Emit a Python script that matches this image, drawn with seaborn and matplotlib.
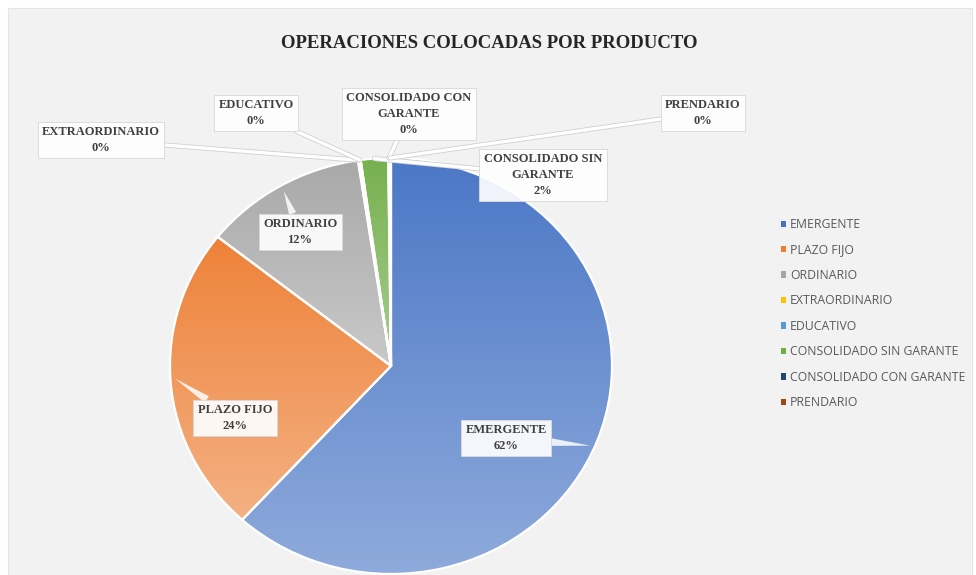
import numpy as np
import matplotlib
matplotlib.use("Agg")
import matplotlib.pyplot as plt
import seaborn as sns
from matplotlib.patches import Patch, Rectangle
from matplotlib.colors import LinearSegmentedColormap, to_rgb
import matplotlib.patheffects as pe

# ---------------- data ----------------
categories = ["EMERGENTE", "PLAZO FIJO", "ORDINARIO", "EXTRAORDINARIO", "EDUCATIVO",
              "CONSOLIDADO SIN GARANTE", "CONSOLIDADO CON GARANTE", "PRENDARIO"]
values = [620, 240, 120, 1, 1, 20, 1, 1]
label_texts = ["EMERGENTE", "PLAZO FIJO", "ORDINARIO", "EXTRAORDINARIO", "EDUCATIVO",
               "CONSOLIDADO SIN\nGARANTE", "CONSOLIDADO CON\nGARANTE", "PRENDARIO"]
title = "OPERACIONES COLOCADAS POR PRODUCTO"

# ---------------- style ----------------
sns.set_theme(style="white")
palette = sns.color_palette(["#4472C4", "#ED7D31", "#A5A5A5", "#FFC000",
                             "#5B9BD5", "#70AD47", "#264478", "#9E480E"])
W, H = 976, 575
fig = plt.figure(figsize=(W / 100, H / 100), dpi=100)
fig.patch.set_facecolor("white")
bg = Rectangle((8 / W, 0), (W - 12) / W, (H - 8) / H, transform=fig.transFigure,
               facecolor="#f2f2f2", edgecolor="#e4e4e4", lw=0.8, zorder=-10)
fig.patches.append(bg)

# pie axes (slightly elliptic like the reference)
cx, cy, rx, ry = 391, 366, 221, 208
ax = fig.add_axes([(cx - rx) / W, (H - cy - ry) / H, 2 * rx / W, 2 * ry / H])
ax.set_facecolor("none")
ax.set_zorder(2)

wedges, _ = ax.pie(values, colors=palette, startangle=90, counterclock=False,
                   radius=1.0, wedgeprops=dict(edgecolor="white", linewidth=1.6))
ax.set_aspect("auto")
ax.axis("off")

# gradient fill per wedge (darker at top, lighter at bottom)
def lighten(c, f):
    c = np.array(to_rgb(c))
    return tuple(c + (1 - c) * f)

for w, col in zip(wedges, palette):
    bb = w.get_path().get_extents(w.get_patch_transform())
    if bb.width < 1e-3:
        continue
    cmap = LinearSegmentedColormap.from_list("g", [lighten(col, 0.04), lighten(col, 0.40)])
    grad = np.linspace(0, 1, 256).reshape(-1, 1)
    im = ax.imshow(grad, cmap=cmap, extent=(bb.x0, bb.x1, bb.y0, bb.y1), origin="upper",
                   aspect="auto", zorder=1, interpolation="bilinear")
    im.set_clip_path(w)
    w.set_facecolor("none")
    w.set_zorder(2)
ax.set_aspect("auto")
ax.set_xlim(-1, 1)
ax.set_ylim(-1, 1)

# ---------------- labels ----------------
total = sum(values)
pcts = [round(v / total * 100) for v in values]
# label box centres (image pixels)
label_pos = [(506, 438), (235, 418), (300, 232), (101, 140), (256, 113),
             (543, 175), (409, 114), (703, 113)]
# pointer tips as (angle deg, radius) inside the pie; None -> wedge mid angle on rim
tips = [(-23, 0.98), (183.5, 0.98), (120, 0.97), None, None, None, None, None]
wedge_ptr = [True, True, True, False, False, False, False, False]

for i, w in enumerate(wedges):
    mid = np.deg2rad((w.theta1 + w.theta2) / 2)
    if tips[i] is None:
        xy = (np.cos(mid) * 1.0, np.sin(mid) * 1.0)
    else:
        a, r = tips[i]
        xy = (r * np.cos(np.deg2rad(a)), r * np.sin(np.deg2rad(a)))
    tx, ty = label_pos[i]
    if wedge_ptr[i]:
        ap = dict(arrowstyle="wedge,tail_width=0.6,shrink_factor=0.5", fc="white",
                  ec="none", alpha=0.85, shrinkA=0, shrinkB=0)
    else:
        ap = dict(arrowstyle="-", color="white", lw=2.4, shrinkA=0, shrinkB=0,
                  path_effects=[pe.Stroke(linewidth=3.6, foreground="#d0d0d0"), pe.Normal()])
    ax.annotate(f"{label_texts[i]}\n{pcts[i]}%", xy=xy, xycoords="data",
                xytext=(tx, H - ty), textcoords="figure pixels",
                ha="center", va="center", fontsize=9, fontweight="bold",
                family="Liberation Serif", color="#404040", linespacing=1.4,
                bbox=dict(boxstyle="square,pad=0.35", fc="white", ec="#d9d9d9",
                          lw=0.7, alpha=0.92),
                arrowprops=ap, zorder=5, annotation_clip=False)

# ---------------- title ----------------
fig.text(489 / W, 1 - 43 / H, title, ha="center", va="center", fontsize=13.5,
         fontweight="bold", family="Liberation Serif", color="#262626")

# ---------------- legend ----------------
handles = [Patch(facecolor=c, edgecolor="none") for c in palette]
leg = fig.legend(handles, categories, loc="upper left",
                 bbox_to_anchor=(781 / W, 1 - 218 / H), bbox_transform=fig.transFigure,
                 frameon=False, fontsize=8.8, handlelength=0.4, handleheight=0.4,
                 handletextpad=0.35, labelspacing=1.02, borderpad=0, borderaxespad=0)
for t in leg.get_texts():
    t.set_color("#595959")
    t.set_family(["Open Sans", "DejaVu Sans"])

fig.savefig("out.png", dpi=100, facecolor=fig.get_facecolor())
